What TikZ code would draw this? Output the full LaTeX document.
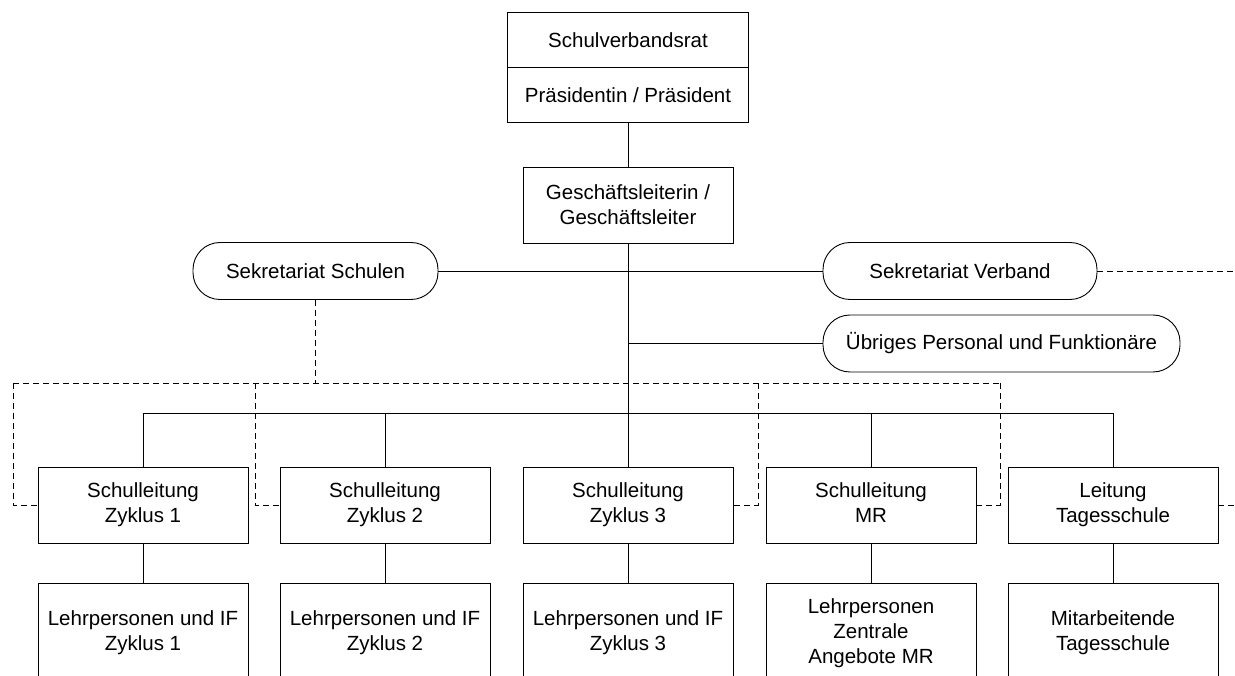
\documentclass[tikz,border=0pt]{standalone}
\usepackage{fontspec}
\setmainfont{Liberation Sans}
\begin{document}
\begin{tikzpicture}[x=1pt,y=-1pt,line width=0.9pt,
  font=\fontsize{20.5}{25}\selectfont,
  box/.style={draw, rectangle, align=center, inner sep=0pt, minimum width=210pt, minimum height=76pt},
  topbox/.style={draw, rectangle, inner sep=0pt, minimum width=241pt, minimum height=55pt},
  pill/.style={draw, rectangle, rounded corners=27pt, inner sep=0pt, minimum height=57pt},
  dashline/.style={dash pattern=on 6pt off 4pt}]
\useasboundingbox (0,0) rectangle (1235,676);
\clip (0,0) rectangle (1235,676);

\node[topbox] (rat) at (628,40) {Schulverbandsrat};
\node[topbox] (praes) at (628,95) {Präsidentin / Präsident};
\node[box] (gl) at (628,205) {Geschäftsleiterin /\\Geschäftsleiter};

\node[pill, minimum width=245pt] (schulen) at (315.5,271) {Sekretariat Schulen};
\node[pill, minimum width=274pt] (verband) at (960,271) {Sekretariat Verband};
\node[pill, minimum width=357pt] (uebrig) at (1001.5,343.5) {Übriges Personal und Funktionäre};

\node[box] (sl1) at (143,505) {Schulleitung\\Zyklus 1};
\node[box] (sl2) at (385,505) {Schulleitung\\Zyklus 2};
\node[box] (sl3) at (628,505) {Schulleitung\\Zyklus 3};
\node[box] (sl4) at (871,505) {Schulleitung\\MR\vphantom{y}};
\node[box] (sl5) at (1113,505) {Leitung\\Tagesschule};

\node[box, minimum height=100pt] (lp1) at (143,633) {Lehrpersonen und IF\\Zyklus 1};
\node[box, minimum height=100pt] (lp2) at (385,633) {Lehrpersonen und IF\\Zyklus 2};
\node[box, minimum height=100pt] (lp3) at (628,633) {Lehrpersonen und IF\\Zyklus 3};
\node[box, minimum height=100pt] (lp4) at (871,633) {Lehrpersonen\\Zentrale\\Angebote MR};
\node[box, minimum height=100pt] (lp5) at (1113,633) {Mitarbeitende\\Tagesschule};

\coordinate (bus) at (628,413);
\coordinate (dl) at (13,383);
\coordinate (d2) at (255,383);
\coordinate (d3) at (758,383);
\coordinate (dr) at (1000,383);
\coordinate (endV) at (1235,271);
\coordinate (endT) at (1235,505);

\draw (praes) -- (gl);
\draw (gl) -- (sl3);
\draw (schulen) -- (verband);
\draw (uebrig.west) -- (uebrig.west -| gl.south);
\foreach \n in {sl1,sl2,sl4,sl5}
  \draw (\n.north) |- (bus);
\foreach \i in {1,...,5}
  \draw (sl\i) -- (lp\i);

\draw[dashline] (verband.east) -- (endV);
\draw[dashline] (schulen.south) -- (schulen.south |- dl);
\draw[dashline] (dl) -- (dr);
\draw[dashline] (dl) |- (sl1.west);
\draw[dashline] (d2) |- (sl2.west);
\draw[dashline] (d3) |- (sl3.east);
\draw[dashline] (dr) |- (sl4.east);
\draw[dashline] (sl5.east) -- (endT);
\end{tikzpicture}
\end{document}
